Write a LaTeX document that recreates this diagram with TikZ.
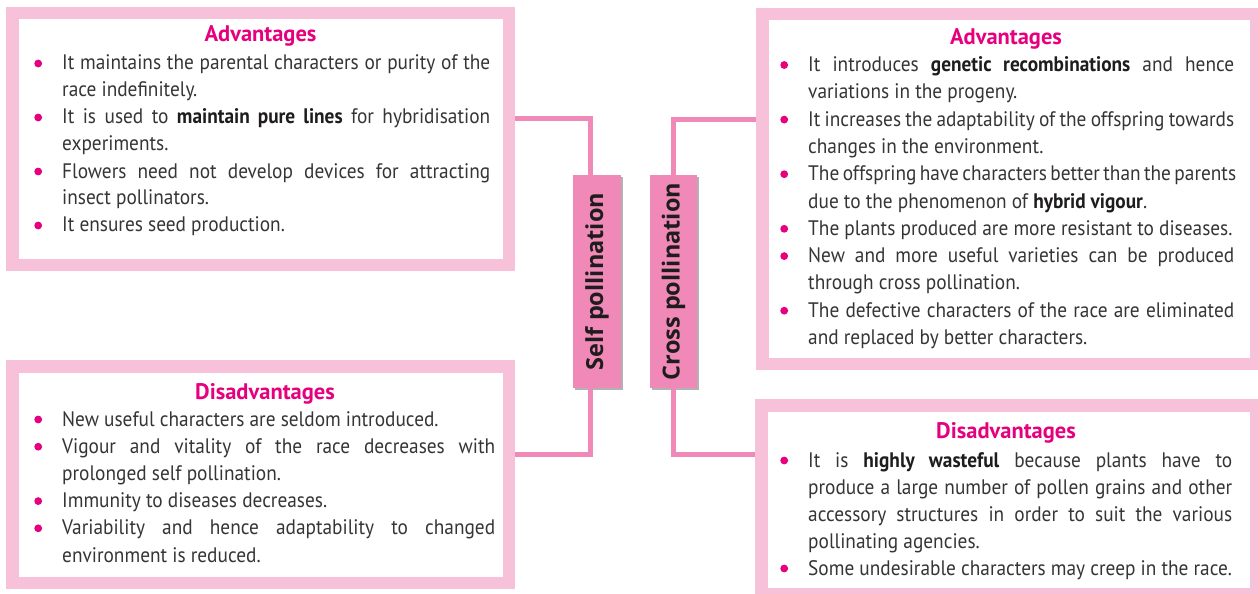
\documentclass[tikz,border=0pt]{standalone}
\usepackage{fontspec}
\setmainfont{PT Sans}[FakeStretch=0.92]
\newfontfamily\headfont{PT Sans}
\newfontfamily\labfont{Open Sans}
\usetikzlibrary{shadows}
\definecolor{boxpink}{RGB}{246,193,217}
\definecolor{linkpink}{RGB}{240,136,184}
\definecolor{bul}{RGB}{230,0,126}
\definecolor{txt}{RGB}{55,52,53}
\definecolor{bld}{RGB}{30,28,29}
\newcommand\bul{\llap{\hbox to 48pt{\hss\tikz[baseline=0pt]\fill[bul](0pt,6.5pt)circle[radius=3.9pt];\hss}}}
\newcommand\jln[1]{\hbox to\hsize{#1}}
\newcommand\lln[1]{\hbox{#1}}
\newcommand\hb[1]{{\bfseries\color{bld}#1}}
\newcommand\blk[3]{\vtop{\hsize=#1\relax\baselineskip=#2\relax\lineskiplimit=-100pt\lineskip=0pt\parindent=0pt #3}}
\begin{document}
\begin{tikzpicture}[x=1pt,y=-1pt,
  pbox/.style={draw=boxpink,line width=12.5pt,fill=white,inner sep=0pt},
  link/.style={draw=linkpink,line width=5pt},
  lab/.style={fill=linkpink,inner sep=0pt,outer sep=0pt,text=bld,font=\labfont\fontsize{23.5}{24}\selectfont\bfseries,
    drop shadow={shadow xshift=1.5pt,shadow yshift=-1.5pt,opacity=0.3,fill=black}},
  head/.style={anchor=base,inner sep=0pt,text=bul,font=\headfont\fontsize{22.5}{22.5}\selectfont\bfseries},
  body/.style={anchor=base west,inner sep=0pt,text=txt,font=\fontsize{21}{27}\selectfont}]
\useasboundingbox (0,0) rectangle (1258,594);
\node[pbox,minimum width=496.5pt,minimum height=251.5pt] (tl) at (260.5,139) {};
\node[pbox,minimum width=496.5pt,minimum height=216.5pt] (bl) at (260.5,474.5) {};
\node[pbox,minimum width=493.5pt,minimum height=349.5pt] (tr) at (1009,189) {};
\node[pbox,minimum width=494.5pt,minimum height=188.5pt] (br) at (1008.5,499.5) {};
\node[lab,minimum width=48pt,minimum height=213pt] (selfl) at (597,281.5) {\rotatebox{90}{Self pollination}};
\node[lab,minimum width=47pt,minimum height=213pt] (crossl) at (673.5,281.5) {\rotatebox{90}{Cross pollination}};
\draw[link] ([xshift=-7pt]selfl.north) |- ([yshift=20.5pt]tl.east);
\draw[link] ([xshift=-7pt]selfl.south) |- ([yshift=20pt]bl.east);
\draw[link] (crossl.north) |- ([yshift=70pt]tr.west);
\draw[link] (crossl.south) |- ([yshift=45pt]br.west);
\node[head] (h1) at (260.5,42) {Advantages};
\node[head] (h2) at (1006,45) {Advantages};
\node[head] (h3) at (265,399) {Disadvantages};
\node[head] (h4) at (1006,438) {Disadvantages};
\node[body] (t1) at (62,70) {\blk{428pt}{27pt}{%
\jln{\bul It maintains the parental characters or purity of the}
\lln{race indefinitely.}
\jln{\bul It is used to \hb{maintain pure lines} for hybridisation}
\lln{experiments.}
\jln{\bul Flowers need not develop devices for attracting}
\lln{insect pollinators.}
\lln{\bul It ensures seed production.}}};
\node[body] (t2) at (808,71.5) {\blk{426pt}{27.3pt}{%
\jln{\bul It introduces \hb{genetic recombinations} and hence}
\lln{variations in the progeny.}
\jln{\bul It increases the adaptability of the offspring towards}
\lln{changes in the environment.}
\jln{\bul The offspring have characters better than the parents}
\lln{due to the phenomenon of \hb{hybrid vigour}.}
\lln{\bul The plants produced are more resistant to diseases.}
\jln{\bul New and more useful varieties can be produced}
\lln{through cross pollination.}
\jln{\bul The defective characters of the race are eliminated}
\lln{and replaced by better characters.}}};
\node[body] (t3) at (62,426) {\blk{433pt}{27.2pt}{%
\lln{\bul New useful characters are seldom introduced.}
\jln{\bul Vigour and vitality of the race decreases with}
\lln{prolonged self pollination.}
\lln{\bul Immunity to diseases decreases.}
\jln{\bul Variability and hence adaptability to changed}
\lln{environment is reduced.}}};
\node[body] (t4) at (808,467) {\blk{424pt}{27pt}{%
\jln{\bul It is \hb{highly wasteful} because plants have to}
\jln{produce a large number of pollen grains and other}
\jln{accessory structures in order to suit the various}
\lln{pollinating agencies.}
\lln{\bul Some undesirable characters may creep in the race.}}};
\end{tikzpicture}
\end{document}
